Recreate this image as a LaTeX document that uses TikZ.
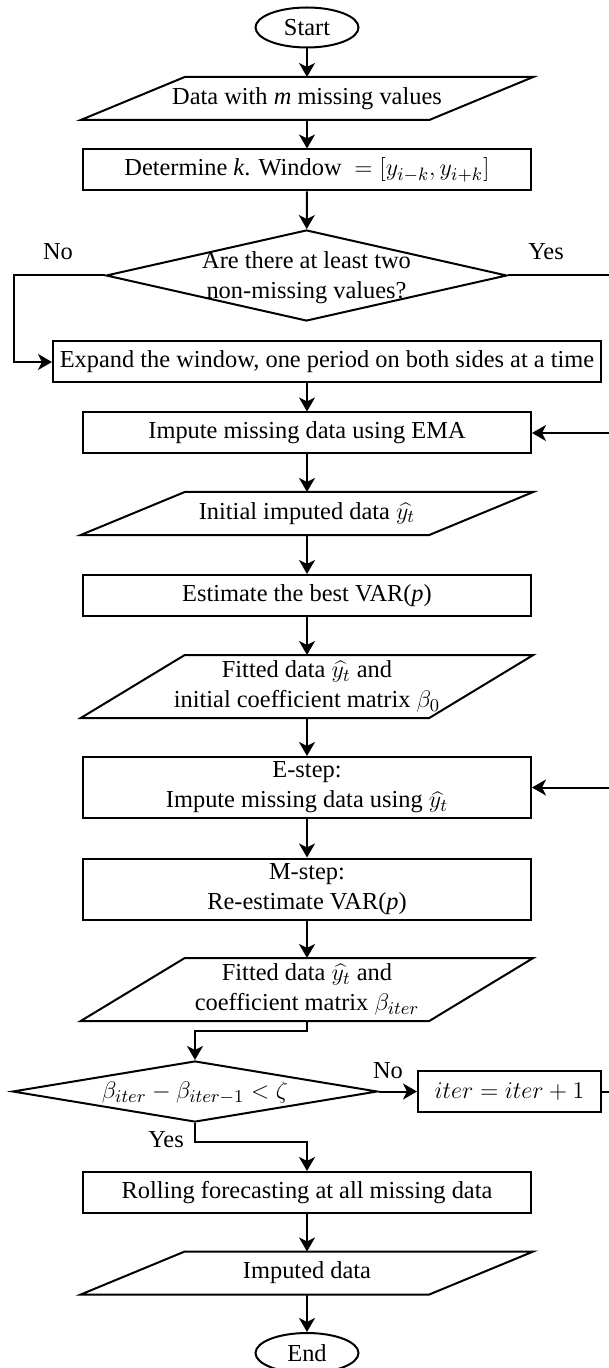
\documentclass[tikz,border=0pt]{standalone}
\usepackage{fontspec}
\setmainfont{Liberation Serif}
\usetikzlibrary{arrows.meta,shapes.geometric,calc}
\newcommand\paraframe[1]{\draw ($(#1.south west)+(-52,0)$) -- ($(#1.north west)+(52,0)$) -- ($(#1.north east)+(52,0)$) -- ($(#1.south east)+(-52,0)$) -- cycle;}
\begin{document}
\begin{tikzpicture}[x=0.5pt,y=-0.5pt,line width=1pt,
  >={Stealth[length=7pt,width=8pt,inset=2pt]},
  every node/.style={font=\fontsize{12.2pt}{15pt}\selectfont, inner sep=0pt, align=center},
  proc/.style={draw, rectangle, minimum width=224pt, minimum height=20.5pt},
  proctwo/.style={proc, minimum height=30.5pt},
  iobox/.style={rectangle, minimum width=173.25pt, minimum height=20.5pt},
  iotwo/.style={iobox, minimum height=30.5pt},
  term/.style={draw, ellipse, minimum width=51.5pt, minimum height=20pt},
  dia/.style={draw, diamond, inner sep=0pt},
  lbl/.style={font=\fontsize{12.2pt}{15pt}\selectfont}
]
\useasboundingbox (0,0) rectangle (609,1368);

\node[term] (start) at (307,27.5) {Start};
\node[iobox] (data) at (307,98.5) {Data with \textit{m} missing values};
\paraframe{data}
\node[proc] (det) at (307,170) {Determine \textit{k}. Window $\;=[y_{i-k},y_{i+k}]$};
\node[dia, minimum width=200.5pt, minimum height=45.5pt] (d1) at (306.5,275.5) {};
\node at (306.5,278) {Are there at least two\\non-missing values?};
\node[proc, minimum width=274pt] (exp) at (327,362) {Expand the window, one period on both sides at a time};
\node[proc] (ema) at (307,433) {Impute missing data using EMA};
\node[iobox] (init) at (307,513.5) {Initial imputed data $\widehat{y_t}$};
\paraframe{init}
\node[proc] (est) at (307,595.5) {Estimate the best VAR(\textit{p})};
\node[iotwo] (fit1) at (307,686.5) {Fitted data $\widehat{y_t}$ and\\initial coefficient matrix $\beta_0$};
\paraframe{fit1}
\node[proctwo] (estep) at (307,787.5) {E-step:\\Impute missing data using $\widehat{y_t}$};
\node[proctwo] (mstep) at (307,889) {M-step:\\Re-estimate VAR(\textit{p})};
\node[iotwo] (fit2) at (307,989.5) {Fitted data $\widehat{y_t}$ and\\coefficient matrix $\beta_{iter}$};
\paraframe{fit2}
\node[dia, minimum width=182.5pt, minimum height=30.5pt] (d2) at (195,1091.5) {};
\node at (195,1093) {$\beta_{iter}-\beta_{iter-1}<\zeta$};
\node[draw, rectangle, minimum width=91.5pt, minimum height=20.5pt] (iter) at (509.5,1091.5) {$iter=iter+1$};
\node[proc] (roll) at (307,1192.5) {Rolling forecasting at all missing data};
\node[iobox] (imp) at (307,1273) {Imputed data};
\paraframe{imp}
\node[term] (end) at (307,1353) {End};

\coordinate (c1a) at (14,275.5);
\coordinate (c1b) at (14,362);
\coordinate (c2a) at (616,275.5);
\coordinate (c2b) at (616,433);
\coordinate (c3a) at (616,1091.5);
\coordinate (c3b) at (616,787.5);
\coordinate (c4a) at (307,1031);
\coordinate (c4b) at (195,1031);
\coordinate (c5a) at (195,1142);
\coordinate (c5b) at (307,1142);

\draw[->] (start) -- (data);
\draw[->] (data) -- (det);
\draw[->] (det) -- (d1);
\draw[->] (d1.west) -- (c1a) -- (c1b) -- (exp.west);
\draw[->] (d1.east) -- (c2a) -- (c2b) -- (ema.east);
\draw[->] (exp.south -| ema.north) -- (ema.north);
\draw[->] (ema) -- (init);
\draw[->] (init) -- (est);
\draw[->] (est) -- (fit1);
\draw[->] (fit1) -- (estep);
\draw[->] (estep) -- (mstep);
\draw[->] (mstep) -- (fit2);
\draw[->] (fit2.south) -- (c4a) -- (c4b) -- (d2.north);
\draw[->] (d2.east) -- (iter.west);
\draw[->] (iter.east) -- (c3a) -- (c3b) -- (estep.east);
\draw[->] (d2.south) -- (c5a) -- (c5b) -- (roll.north);
\draw[->] (roll) -- (imp);
\draw[->] (imp) -- (end);

\node[lbl] at (58,252) {No};
\node[lbl] at (546,252) {Yes};
\node[lbl] at (388,1071) {No};
\node[lbl] at (166,1140) {Yes};
\end{tikzpicture}
\end{document}
